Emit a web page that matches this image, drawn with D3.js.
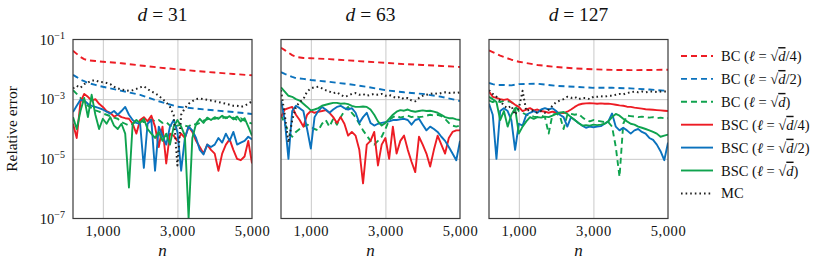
<!DOCTYPE html>
<html>
<head>
<meta charset="utf-8">
<script src="https://cdn.jsdelivr.net/npm/d3@7"></script>
<style>
  body { margin: 0; background: #fff; }
  text { font-family: "Liberation Serif", "DejaVu Serif", serif; fill: #111; }
</style>
</head>
<body>
<div id="chart"></div>
<script>
// sample sizes
const N = [200,300,400,500,600,700,800,900,1000,1100,1200,1300,1400,1500,1600,1700,1800,1900,2000,2100,
  2200,2300,2400,2500,2600,2700,2800,2900,3000,3100,3200,3300,3400,3500,3600,3700,3800,3900,4000,4100,
  4200,4300,4400,4500,4600,4700,4800,4900,5000];
// coarser grid for the smooth BC curves
const NC = [200,300,400,500,600,800,1000,1500,2000,2500,3000,3500,4000,4500,5000];

const dims = [31, 63, 127];
const xTicks = [1000, 3000, 5000];
const yTicks = [1e-1, 1e-3, 1e-5, 1e-7];

// ---- d = 31 ----
const bc4_31 = [4.2e-2,3.3e-2,2.6e-2,2.2e-2,2.0e-2,1.9e-2,1.8e-2,1.6e-2,1.35e-2,1.15e-2,1.0e-2,8.8e-3,7.8e-3,7.0e-3,6.3e-3];
const bc2_31 = [6.5e-3,5.5e-3,4.5e-3,4.0e-3,3.5e-3,3.0e-3,2.6e-3,1.9e-3,1.4e-3,8.5e-4,5.6e-4,4.8e-4,4.2e-4,3.7e-4,3.2e-4];
const bc1_31 = [2.0e-3,1.5e-3,1.1e-3,8e-4,6e-4,5e-4,4.2e-4,3.8e-4,3.3e-4,3.0e-4,2.7e-4,2.4e-4,2.2e-4,1.7e-4,1.5e-4,1.3e-4,
  1.5e-4,1.8e-4,2.0e-4,1.7e-4,1.9e-4,2.1e-4,1.8e-4,2.0e-4,1.6e-4,1.7e-4,1.3e-4,1.2e-4,1.3e-4,1.4e-4,1.3e-4,1.2e-4,
  1.5e-4,1.4e-4,1.6e-4,1.9e-4,2.1e-4,2.3e-4,2.2e-4,2.4e-4,2.3e-4,2.5e-4,2.2e-4,2.4e-4,2.0e-4,2.3e-4,1.9e-4,1.7e-4,1.5e-4];
const bsc4_31 = [1.5e-4,5e-5,8e-4,1.5e-3,1.2e-3,9e-4,1.0e-3,7e-4,5.5e-4,4e-4,3.5e-4,2.6e-4,3e-4,2.5e-4,2.3e-4,2.2e-4,
  1.5e-4,7e-5,2e-4,2.5e-4,1.8e-4,2.8e-4,1.2e-4,2.5e-5,1.2e-4,7e-6,7e-5,6e-5,4e-5,7e-5,5e-5,1.2e-4,
  8e-5,4e-5,2.5e-5,1.5e-5,3e-5,2e-5,1.5e-5,4e-6,1.5e-5,3e-5,4.5e-5,2e-5,1e-5,9e-6,1.2e-5,4e-5,7e-6];
const bsc2_31 = [3.7e-4,6e-4,9.5e-4,9e-4,7e-4,6e-4,5.5e-4,5e-4,4.5e-4,3.8e-4,3.3e-4,4e-4,3e-4,4e-4,5.5e-4,3e-4,
  2e-4,1.6e-4,1.5e-4,5e-6,1.5e-4,2e-4,4e-6,1.2e-4,6e-5,3e-5,1.2e-4,2e-4,8e-5,4e-6,5e-5,1.2e-4,
  9e-5,5e-5,2e-5,1.4e-5,3e-5,2.5e-5,3e-5,5e-5,3.5e-5,7e-5,4e-5,8e-5,3e-5,3.5e-5,4e-5,5.5e-5,4.5e-5];
const bsc1_31 = [2.5e-4,1.0e-4,4e-4,1.1e-3,2.5e-4,1.4e-3,3e-4,1.0e-4,2.2e-4,1.5e-4,2.5e-4,1.3e-4,1.0e-4,1.5e-4,7e-5,1.1e-6,
  1.5e-4,2.0e-4,1.6e-4,2.2e-4,1.0e-4,7e-5,5e-5,8e-5,4e-5,7e-5,3e-5,1.2e-4,2.0e-4,1.2e-4,6e-5,1e-7,
  5e-5,1.5e-4,2.2e-4,1.6e-4,2.4e-4,2.0e-4,2.5e-4,2.2e-4,2.8e-4,2.3e-4,2.7e-4,2.1e-4,2.6e-4,1.8e-4,2.3e-4,1.2e-4,6e-5];
const mc_31 = [2.3e-3,2.8e-3,2.4e-3,3.2e-3,3.6e-3,4.2e-3,4.3e-3,3.8e-3,3.7e-3,3.5e-3,3.2e-3,2.6e-3,2.3e-3,2.1e-3,2.0e-3,1.9e-3,
  2.0e-3,2.2e-3,2.5e-3,2.7e-3,2.2e-3,1.8e-3,1.6e-3,1.3e-3,1.0e-3,8e-4,5.5e-4,3e-4,6e-6,3e-4,5e-4,7e-4,
  8.5e-4,1.0e-3,1.05e-3,1.0e-3,9.5e-4,9e-4,8.5e-4,8e-4,7.5e-4,7e-4,6.5e-4,6e-4,6e-4,5.5e-4,6e-4,7e-4,8.5e-4];

// ---- d = 63 ----
const bc4_63 = [5.3e-2,4.4e-2,3.6e-2,3.0e-2,2.6e-2,2.4e-2,2.35e-2,2.2e-2,2.0e-2,1.8e-2,1.65e-2,1.5e-2,1.4e-2,1.3e-2,1.2e-2];
const bc2_63 = [8e-3,7e-3,6.3e-3,5.6e-3,5.1e-3,4.8e-3,4.4e-3,3.8e-3,3.2e-3,2.6e-3,2.0e-3,1.7e-3,1.5e-3,1.2e-3,8.7e-4];
const bc1_63 = [3e-4,1.5e-4,8e-5,5.5e-5,8e-5,1e-4,1.2e-4,1.4e-4,1.2e-4,1.0e-4,9e-5,1.5e-4,2.0e-4,1.2e-4,2.2e-4,1.4e-4,
  2.5e-4,4e-4,5.5e-4,3.5e-4,2.5e-4,1.5e-4,9e-5,6e-5,4e-5,3e-5,4e-5,5.5e-5,1e-4,2e-4,2.5e-4,2.8e-4,
  2.4e-4,2.6e-4,2.8e-4,2.5e-4,2.7e-4,2.5e-4,2.6e-4,2.8e-4,3.0e-4,2.8e-4,3.0e-4,2.7e-4,2.2e-4,1.6e-4,1.3e-4,1.2e-4,1.3e-4];
const bsc4_63 = [2.5e-4,4.5e-4,5e-4,5.5e-4,3e-4,2e-4,1.2e-4,3e-4,4e-4,3.5e-4,3.8e-4,4e-4,4.3e-4,3.5e-4,2.5e-4,1.6e-4,
  2.5e-4,1.5e-4,6e-5,8e-5,6e-5,2e-5,1.5e-6,3e-5,4e-5,8e-5,6e-6,3e-5,5e-5,1e-5,1.2e-4,1.5e-5,
  4e-5,6e-5,2e-5,8e-6,3.6e-6,5.5e-5,3e-5,1.5e-5,5.5e-6,2e-5,6e-5,3e-5,1.5e-5,5e-5,8e-5,9e-5,9e-5];
const bsc2_63 = [9e-4,2e-4,1e-5,4e-4,6e-4,5e-4,4e-4,1e-4,2.2e-5,2.5e-4,4e-4,5.5e-4,4.5e-4,3.5e-4,4.5e-4,5.5e-4,
  6e-4,5e-4,4.5e-4,5e-4,3.5e-4,1.6e-4,2.5e-4,3.5e-4,1.6e-4,1.3e-4,1.5e-4,1.6e-4,1.7e-4,1.8e-4,2.0e-4,2.0e-4,
  2.1e-4,2.2e-4,2.0e-4,1.4e-4,2.0e-4,2.2e-4,1.4e-4,9e-5,1.2e-4,1.0e-4,8e-5,5.5e-5,4e-5,2.5e-5,1.5e-5,9e-6,4e-5];
const bsc1_63 = [2.5e-3,1.8e-3,1.3e-3,1.2e-3,1.0e-3,9e-4,7e-4,5.5e-4,4.2e-4,4.5e-4,5e-4,6e-4,6.5e-4,7e-4,7.5e-4,7.5e-4,
  7e-4,7.2e-4,6.8e-4,6e-4,5.5e-4,5.5e-4,5.7e-4,5.5e-4,4.5e-4,3e-4,1.8e-4,1.3e-4,1.6e-4,2.2e-4,3e-4,3.8e-4,
  4.3e-4,4.1e-4,4.5e-4,4.0e-4,3.8e-4,4.0e-4,4.2e-4,4.0e-4,4.1e-4,3.8e-4,3.5e-4,3.0e-4,2.5e-4,2.3e-4,2.3e-4,2.1e-4,2.0e-4];
const mc_63 = [2.0e-3,3e-4,3.5e-5,2e-4,5.5e-4,8e-4,1.0e-3,1.8e-3,2.3e-3,2.5e-3,2.6e-3,2.3e-3,2.0e-3,1.8e-3,1.6e-3,1.7e-3,
  1.4e-3,1.2e-3,1.3e-3,1.5e-3,1.6e-3,1.4e-3,1.5e-3,1.3e-3,1.4e-3,1.5e-3,1.4e-3,1.5e-3,1.3e-3,1.4e-3,1.2e-3,1.1e-3,
  1.2e-3,1.0e-3,1.1e-3,9e-4,8.5e-4,1.1e-3,1.3e-3,1.4e-3,1.5e-3,1.6e-3,1.5e-3,1.6e-3,1.7e-3,1.6e-3,1.7e-3,1.6e-3,1.7e-3];

// ---- d = 127 ----
const bc4_127 = [4.3e-2,3.8e-2,3.3e-2,2.9e-2,2.6e-2,2.1e-2,1.8e-2,1.4e-2,1.2e-2,1.07e-2,1.0e-2,9.6e-3,9.4e-3,9.5e-3,9.7e-3];
const bc2_127 = [3.5e-3,3.2e-3,3.0e-3,3.0e-3,3.0e-3,2.9e-3,3.2e-3,3.3e-3,2.8e-3,2.6e-3,2.4e-3,2.4e-3,2.3e-3,2.1e-3,1.9e-3];
const bc1_127 = [9e-4,8e-4,9e-4,8e-4,9e-4,8.5e-4,8e-4,6e-4,4e-4,3.5e-4,3e-4,2.8e-4,2.6e-4,2.5e-4,2.8e-4,2.5e-4,
  7e-5,3e-4,3.3e-4,2.8e-4,1e-4,3e-4,3.2e-4,3e-4,3.2e-4,2.5e-4,2e-4,1.8e-4,2.0e-4,1.9e-4,1.8e-4,1.7e-4,
  1.7e-4,1.2e-4,2.5e-5,2.5e-6,1.5e-4,2.8e-4,2.7e-4,2.6e-4,2.5e-4,2.6e-4,2.5e-4,2.4e-4,2.5e-4,2.3e-4,2.4e-4,2.3e-4,2.3e-4];
const bsc4_127 = [1.8e-3,1.2e-3,1.1e-3,1.0e-3,9.5e-4,1.0e-3,8e-4,6.5e-4,5.5e-4,4e-4,4.5e-4,5e-4,4.2e-4,4.5e-4,4e-4,3.8e-4,
  3.5e-4,3.8e-4,3.6e-4,3.5e-4,3.4e-4,3.8e-4,4.5e-4,5.5e-4,6.5e-4,7e-4,7.2e-4,7.3e-4,7.2e-4,7.0e-4,7.2e-4,7.0e-4,
  7.1e-4,6.8e-4,6.5e-4,6.2e-4,6.0e-4,5.6e-4,5.5e-4,5.2e-4,5.0e-4,4.8e-4,4.6e-4,4.5e-4,4.4e-4,4.3e-4,4.2e-4,4.1e-4,4.0e-4];
const bsc2_127 = [7e-4,3e-4,1e-5,4e-4,5e-4,4e-4,2e-4,2e-5,1.5e-4,1.3e-4,3e-4,3.5e-4,4e-4,3.5e-4,4.5e-4,5e-4,
  4.5e-4,5e-4,4e-4,3e-4,2.5e-4,1.2e-4,2.5e-4,2e-4,1.6e-4,1.3e-4,1.1e-4,1.2e-4,1.15e-4,1.2e-4,1.25e-4,1.5e-4,
  1.8e-4,3.3e-4,1.2e-4,9e-5,1.1e-4,9e-5,7e-5,9e-5,1.0e-4,8e-5,7e-5,5e-5,4.3e-5,3e-5,1.8e-5,9e-6,3.5e-5];
const bsc1_127 = [1.2e-3,1e-3,8e-4,2e-4,4e-4,1.2e-4,3e-4,5e-4,7e-5,1.2e-4,1.8e-4,2.5e-4,2.2e-4,2.5e-4,2.4e-4,2.6e-4,
  2.5e-4,2.8e-4,3.2e-4,3.5e-4,3.7e-4,3.2e-4,2.5e-4,2.0e-4,1.6e-4,1.3e-4,1.35e-4,1.3e-4,1.4e-4,1.35e-4,1.4e-4,1.5e-4,
  1.8e-4,2.5e-4,3.2e-4,2.8e-4,2.2e-4,1.8e-4,1.5e-4,1.4e-4,1.2e-4,1.1e-4,1.0e-4,9e-5,8e-5,7e-5,5.5e-5,6e-5,6.5e-5];
const mc_127 = [2e-3,1.5e-3,1.2e-3,9e-4,6e-4,5e-4,6e-4,3e-4,5e-4,1.9e-3,4e-4,4.5e-4,4e-4,3.5e-4,4e-4,3.5e-4,
  4.5e-4,6e-4,8e-4,9e-4,1.0e-3,1.2e-3,1.1e-3,1.2e-3,1.0e-3,1.1e-3,1.1e-3,1.0e-3,1.2e-3,1.2e-3,1.25e-3,1.2e-3,
  1.3e-3,1.3e-3,1.4e-3,1.5e-3,1.45e-3,1.6e-3,1.7e-3,1.8e-3,1.7e-3,1.8e-3,1.7e-3,1.8e-3,1.8e-3,1.75e-3,1.8e-3,1.8e-3,1.8e-3];

const panelData = [
  [bc4_31, bc2_31, bc1_31, bsc4_31, bsc2_31, bsc1_31, mc_31],
  [bc4_63, bc2_63, bc1_63, bsc4_63, bsc2_63, bsc1_63, mc_63],
  [bc4_127, bc2_127, bc1_127, bsc4_127, bsc2_127, bsc1_127, mc_127]
];

const RED = "#ed1c24", BLUE = "#0b72bd", GREEN = "#0fa34e";
const series = [
  {pre: "BC", suf: "/4)", color: RED,   dash: "6,4", xs: NC},
  {pre: "BC", suf: "/2)", color: BLUE,  dash: "6,4", xs: NC},
  {pre: "BC", suf: ")",   color: GREEN, dash: "6,4", xs: N},
  {pre: "BSC", suf: "/4)", color: RED,   dash: null, xs: N},
  {pre: "BSC", suf: "/2)", color: BLUE,  dash: null, xs: N},
  {pre: "BSC", suf: ")",   color: GREEN, dash: null, xs: N},
  {pre: "MC", color: "#222", dash: "1.6,3", xs: N}
];

const W = 830, H = 264;
const lefts = [73, 281, 489];
const pw = 179, topY = 39.5, ph = 179;

const svg = d3.select("#chart").append("svg").attr("width", W).attr("height", H);

const y = d3.scaleLog().domain([1e-7, 1e-1]).range([topY + ph, topY]);
const line = d3.line();

dims.forEach((dim, p) => {
  const x0 = lefts[p];
  const x = d3.scaleLinear().domain([200, 5000]).range([x0, x0 + pw]);
  const g = svg.append("g");

  svg.append("clipPath").attr("id", "clip" + p)
    .append("rect").attr("x", x0).attr("y", topY).attr("width", pw).attr("height", ph);

  // grid
  g.append("g").attr("transform", `translate(0,${topY + ph})`)
    .call(d3.axisBottom(x).tickValues([1000, 3000]).tickSize(-ph).tickFormat(""))
    .call(a => a.select(".domain").remove())
    .selectAll("line").attr("stroke", "#c9c9c9").attr("stroke-width", 1);
  g.append("g").attr("transform", `translate(${x0},0)`)
    .call(d3.axisLeft(y).tickValues([1e-3, 1e-5]).tickSize(-pw).tickFormat(""))
    .call(a => a.select(".domain").remove())
    .selectAll("line").attr("stroke", "#c9c9c9").attr("stroke-width", 1);

  // x tick labels
  const xa = g.append("g").attr("transform", `translate(0,${topY + ph})`)
    .call(d3.axisBottom(x).tickValues(xTicks).tickSize(0).tickPadding(7).tickFormat(d3.format(",")));
  xa.select(".domain").remove();
  xa.selectAll("text").attr("font-size", 14.5).attr("letter-spacing", 0.6)
    .attr("font-family", "Liberation Serif").attr("fill", "#111");

  // series
  const lg = g.append("g").attr("clip-path", `url(#clip${p})`);
  series.forEach((s, k) => {
    const vals = panelData[p][k];
    const pts = vals.map((v, i) => [x(s.xs[i]), y(v)]);
    lg.append("path")
      .attr("d", line(pts))
      .attr("fill", "none")
      .attr("stroke", s.color)
      .attr("stroke-width", s.dash === "1.6,3" ? 2 : 1.9)
      .attr("stroke-dasharray", s.dash)
      .attr("stroke-linejoin", "round");
  });

  // frame
  g.append("rect").attr("x", x0).attr("y", topY).attr("width", pw).attr("height", ph)
    .attr("fill", "none").attr("stroke", "#3a3a3a").attr("stroke-width", 1.2);

  // title
  const t = g.append("text").attr("x", x0 + pw / 2).attr("y", 21)
    .attr("text-anchor", "middle").attr("font-size", 19.5);
  t.append("tspan").attr("font-style", "italic").text("d");
  t.append("tspan").text("\u2005=\u2005" + dim);

  // x label
  g.append("text").attr("x", x0 + pw / 2).attr("y", 256).attr("text-anchor", "middle")
    .attr("font-size", 17).attr("font-style", "italic").text("n");

  // y tick labels on first panel
  if (p === 0) {
    const ya = g.append("g").attr("transform", `translate(${x0},0)`)
      .call(d3.axisLeft(y).tickValues(yTicks).tickSize(0).tickPadding(8).tickFormat(""));
    ya.select(".domain").remove();
    ya.selectAll(".tick").each(function (d) {
      const e = Math.round(Math.log10(d));
      const tx = d3.select(this).append("text").attr("x", -8).attr("dy", "0.32em")
        .attr("text-anchor", "end").attr("font-size", 14.5).attr("fill", "#111");
      tx.append("tspan").text("10");
      tx.append("tspan").attr("font-size", 10).attr("dy", "-0.55em").text("\u2212" + (-e));
    });
  }
});

// y axis title
svg.append("text").attr("transform", `translate(17,${topY + ph / 2}) rotate(-90)`)
  .attr("text-anchor", "middle").attr("font-size", 15.5).text("Relative error");

// legend
const leg = svg.append("g");
series.forEach((s, k) => {
  const yy = 56 + k * 22.9;
  leg.append("line").attr("x1", 681).attr("x2", 713).attr("y1", yy).attr("y2", yy)
    .attr("stroke", s.color).attr("stroke-width", s.dash === "1.6,3" ? 2 : 1.9)
    .attr("stroke-dasharray", s.dash);
  const t = leg.append("text").attr("x", 721).attr("y", yy).attr("dy", "0.35em").attr("font-size", 14.5);
  if (s.pre === "MC") { t.text("MC"); return; }
  t.append("tspan").text(s.pre + " (");
  t.append("tspan").attr("font-style", "italic").text("\u2113");
  t.append("tspan").text(" = \u221A");
  t.append("tspan").attr("font-style", "italic").style("text-decoration", "overline").text("d");
  t.append("tspan").text(s.suf);
});
</script>
</body>
</html>
